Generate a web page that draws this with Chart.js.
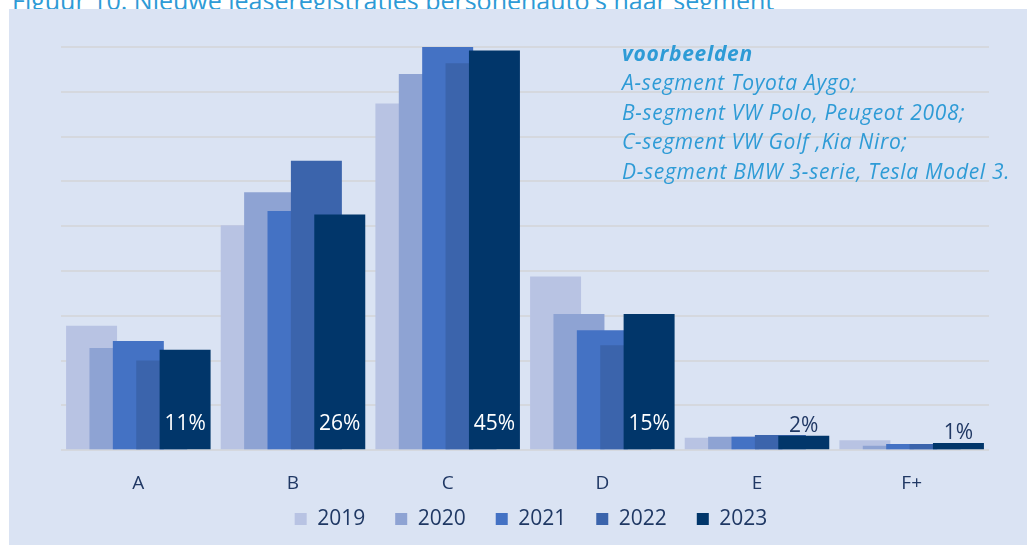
<!DOCTYPE html>
<html>
<head>
<meta charset="utf-8">
<script src="https://cdn.jsdelivr.net/npm/chart.js@4/dist/chart.umd.min.js"></script>
<style>
  html, body { margin: 0; padding: 0; background: #fff; }
  body { width: 1027px; height: 545px; position: relative; overflow: hidden; font-family: "Open Sans", sans-serif; }
  #title { position: absolute; left: 12px; top: -15px; font-size: 25px; line-height: 30px; color: #2e9bd6; white-space: nowrap; }
  #panel { position: absolute; left: 9px; top: 9px; width: 1018px; height: 536px; background: #dae3f3; }
  #note { position: absolute; left: 613px; top: 30px; font-size: 21px; line-height: 29.4px; letter-spacing: 0.7px; font-style: italic; color: #2e9bd6; white-space: nowrap; }
  #note b { font-weight: 700; }
  canvas { position: absolute; left: 0; top: 0; }
</style>
</head>
<body>
<div id="title">Figuur 10: Nieuwe leaseregistraties personenauto's naar segment</div>
<div id="panel">
  <canvas id="chart" width="1018" height="536"></canvas>
  <div id="note"><b>voorbeelden</b><br>A-segment Toyota Aygo;<br>B-segment VW Polo, Peugeot 2008;<br>C-segment VW Golf ,Kia Niro;<br>D-segment BMW 3-serie, Tesla Model 3.</div>
</div>
<script>
// segment share of new lease registrations (%)
const segments = ['A', 'B', 'C', 'D', 'E', 'F+'];
const years = ['2019', '2020', '2021', '2022', '2023'];
const share2019 = [13.9, 25.1, 38.7, 19.4, 1.4, 1.1];
const share2020 = [11.4, 28.8, 42.0, 15.2, 1.5, 0.5];
const share2021 = [12.2, 26.7, 45.0, 13.4, 1.5, 0.7];
const share2022 = [10.0, 32.3, 43.2, 11.7, 1.7, 0.7];
const share2023 = [11.2, 26.3, 44.6, 15.2, 1.6, 0.8];
const yearColors = ['#b8c3e3', '#8ea3d3', '#4472c4', '#3b64ac', '#01366a'];

const allShares = [share2019, share2020, share2021, share2022, share2023];

// Excel draws the later series on top of the earlier ones
const drawOrder = {
  id: 'drawOrder',
  beforeDatasetsDraw(chart) {
    chart.getSortedVisibleDatasetMetas().forEach(m => {
      if (chart._drawDataset) chart._drawDataset(m); else m.controller.draw();
    });
    return false;
  }
};

// put the legend row where the original has it
const legendShift = {
  id: 'legendShift',
  afterLayout(chart) {
    const lg = chart.legend;
    if (!lg) return;
    lg.left += 6;
    lg.right += 6;
    lg.top = 469.5;
    lg.bottom = chart.height;
  }
};

// percentage labels on the 2023 bars
const lastLabels = {
  id: 'lastLabels',
  afterDraw(chart) {
    const ctx = chart.ctx;
    const idx = chart.data.datasets.length - 1;
    const meta = chart.getDatasetMeta(idx);
    ctx.save();
    ctx.font = '21px "Open Sans"';
    ctx.textAlign = 'center';
    ctx.textBaseline = 'middle';
    meta.data.forEach((bar, i) => {
      const txt = Math.round(chart.data.datasets[idx].data[i]) + '%';
      const inside = bar.base - bar.y > 40;
      ctx.fillStyle = inside ? '#ffffff' : '#203864';
      ctx.fillText(txt, bar.x, inside ? bar.base - 25 : bar.y - 10);
    });
    ctx.restore();
  }
};

new Chart(document.getElementById('chart'), {
  type: 'bar',
  data: {
    labels: segments,
    datasets: years.map((y, i) => ({
      label: y,
      data: allShares[i],
      backgroundColor: yearColors[i],
      borderWidth: 0,
      categoryPercentage: 0.756,
      barPercentage: 2.18
    }))
  },
  options: {
    responsive: false,
    animation: false,
    layout: { padding: { left: 52, right: 38, top: 38, bottom: 8 } },
    plugins: {
      legend: {
        position: 'bottom',
        maxHeight: 21,
        labels: {
          boxWidth: 12, boxHeight: 12, padding: 30,
          color: '#1f3864',
          font: { family: 'Open Sans', size: 21 }
        }
      },
      tooltip: { enabled: false }
    },
    scales: {
      x: {
        grid: { display: false, drawTicks: false },
        border: { display: false },
        ticks: { color: '#203864', padding: 21.5, font: { family: 'Open Sans', size: 19 } }
      },
      y: {
        min: 0, max: 45,
        ticks: { display: false, stepSize: 5 },
        grid: { color: '#d5d8de', lineWidth: 2, drawTicks: false },
        border: { display: false }
      }
    }
  },
  plugins: [drawOrder, legendShift, lastLabels]
});
</script>
</body>
</html>
